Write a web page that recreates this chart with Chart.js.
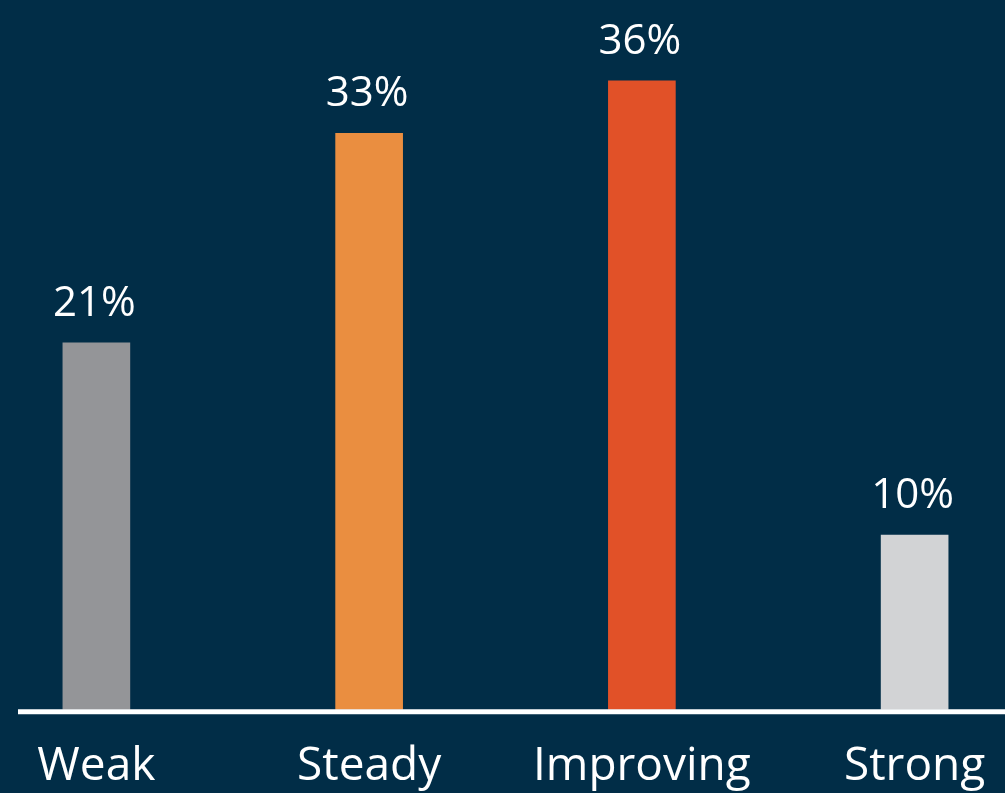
<!DOCTYPE html>
<html>
<head>
<meta charset="utf-8">
<script src="https://cdn.jsdelivr.net/npm/chart.js@4/dist/chart.umd.min.js"></script>
<style>
    html, body {
        margin: 0;
        padding: 0;
        width: 1005px;
        height: 793px;
        overflow: hidden;
        background: #012d47;
    }
    #wrap {
        position: absolute;
        left: -40px;
        top: 0;
        width: 1091px;
        height: 823px;
    }
</style>
</head>
<body>
<div id="wrap"><canvas id="myChart"></canvas></div>
<script>
const categories = ['Weak', 'Steady', 'Improving', 'Strong'];
const shares = [21, 33, 36, 10];
const barColors = ['#949598', '#ea8e40', '#e15128', '#d2d3d5'];

// writes the percentage above each bar
const valueLabels = {
    id: 'valueLabels',
    afterDatasetsDraw(chart) {
        const ctx = chart.ctx;
        const meta = chart.getDatasetMeta(0);
        ctx.save();
        ctx.fillStyle = '#ffffff';
        ctx.font = '42px "Open Sans"';
        ctx.textAlign = 'center';
        ctx.textBaseline = 'alphabetic';
        meta.data.forEach((bar, i) => {
            ctx.fillText(shares[i] + '%', bar.x - 2, bar.y - 27);
        });
        ctx.restore();
    }
};

// white base line under the bars
const baseLine = {
    id: 'baseLine',
    afterDatasetsDraw(chart) {
        const ctx = chart.ctx;
        const y = chart.scales.y.getPixelForValue(0) + 2;
        ctx.save();
        ctx.strokeStyle = '#ffffff';
        ctx.lineWidth = 5;
        ctx.beginPath();
        ctx.moveTo(chart.chartArea.left + 58, y);
        ctx.lineTo(chart.chartArea.right, y);
        ctx.stroke();
        ctx.restore();
    }
};

function renderChart() {
    const ctx = document.getElementById('myChart').getContext('2d');
    new Chart(ctx, {
        type: 'bar',
        data: {
            labels: categories,
            datasets: [{
                data: shares,
                backgroundColor: barColors,
                borderWidth: 0,
                barThickness: 67
            }]
        },
        options: {
            responsive: true,
            maintainAspectRatio: false,
            animation: false,
            layout: {
                padding: { top: 11, left: 0, right: 0, bottom: 0 }
            },
            plugins: {
                legend: { display: false },
                tooltip: { enabled: false }
            },
            scales: {
                x: {
                    grid: { display: false, drawTicks: false },
                    border: { display: false },
                    ticks: {
                        color: '#ffffff',
                        padding: 29,
                        font: { family: '"Open Sans"', size: 46 }
                    }
                },
                y: {
                    display: false,
                    min: 0,
                    max: 40
                }
            }
        },
        plugins: [valueLabels, baseLine]
    });
}

window.onload = renderChart;
</script>
</body>
</html>
